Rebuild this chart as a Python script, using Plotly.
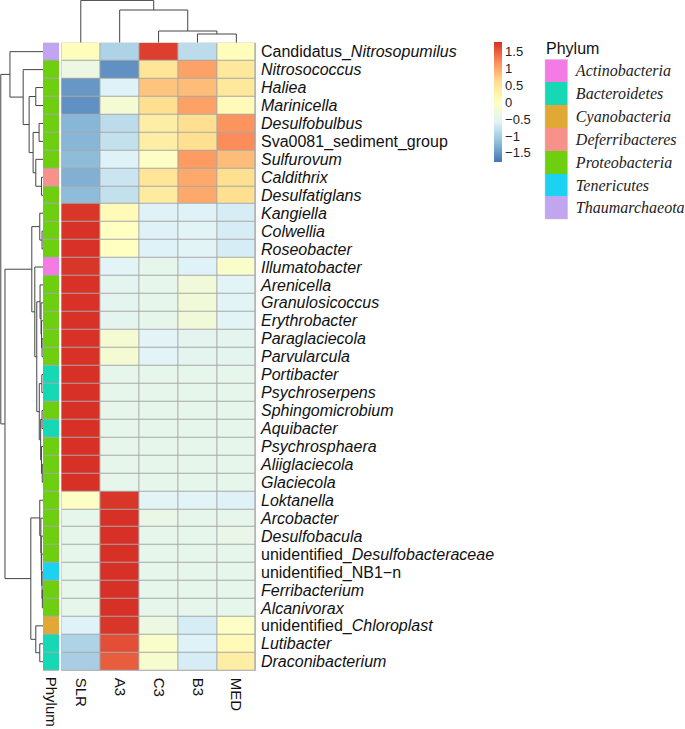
import plotly.graph_objects as go

W, H = 685, 729

samples = ["SLR", "A3", "C3", "B3", "MED"]

genera = [
    "Candidatus_<i>Nitrosopumilus</i>", "<i>Nitrosococcus</i>", "<i>Haliea</i>", "<i>Marinicella</i>",
    "<i>Desulfobulbus</i>", "Sva0081_sediment_group", "<i>Sulfurovum</i>", "<i>Caldithrix</i>",
    "<i>Desulfatiglans</i>", "<i>Kangiella</i>", "<i>Colwellia</i>", "<i>Roseobacter</i>",
    "<i>Illumatobacter</i>", "<i>Arenicella</i>", "<i>Granulosicoccus</i>", "<i>Erythrobacter</i>",
    "<i>Paraglaciecola</i>", "<i>Parvularcula</i>", "<i>Portibacter</i>", "<i>Psychroserpens</i>",
    "<i>Sphingomicrobium</i>", "<i>Aquibacter</i>", "<i>Psychrosphaera</i>", "<i>Aliiglaciecola</i>",
    "<i>Glaciecola</i>", "<i>Loktanella</i>", "<i>Arcobacter</i>", "<i>Desulfobacula</i>",
    "unidentified_<i>Desulfobacteraceae</i>", "unidentified_NB1\u2212n", "<i>Ferribacterium</i>",
    "<i>Alcanivorax</i>", "unidentified_<i>Chloroplast</i>", "<i>Lutibacter</i>", "<i>Draconibacterium</i>",
]

# row-scaled values per sample column
slr = [0.05, -0.35, -1.50, -1.55, -1.25, -1.25, -1.20, -1.30, -1.20, 1.75, 1.78, 1.78,
       1.75, 1.78, 1.78, 1.78, 1.78, 1.78, 1.789, 1.789, 1.789, 1.789, 1.789, 1.789,
       1.789, -0.05, -0.45, -0.45, -0.45, -0.45, -0.45, -0.45, -0.60, -0.95, -1.00]
a3 = [-0.95, -1.55, -0.60, -0.20, -0.85, -0.80, -0.60, -0.75, -0.80, 0.10, 0.00, 0.00,
      -0.55, -0.50, -0.50, -0.50, -0.20, -0.20, -0.447, -0.447, -0.447, -0.447, -0.447, -0.447,
      -0.447, 1.75, 1.789, 1.789, 1.789, 1.789, 1.789, 1.789, 1.75, 1.60, 1.50]
c3 = [1.70, 0.50, 0.80, 0.60, 0.35, 0.35, -0.05, 0.50, 0.40, -0.60, -0.60, -0.60,
      -0.45, -0.45, -0.45, -0.45, -0.55, -0.55, -0.447, -0.447, -0.447, -0.447, -0.447, -0.447,
      -0.447, -0.55, -0.40, -0.45, -0.45, -0.45, -0.45, -0.45, -0.35, -0.10, -0.15]
b3 = [-0.85, 1.05, 0.85, 1.05, 0.60, 0.60, 1.10, 1.00, 1.00, -0.60, -0.55, -0.55,
      -0.60, -0.25, -0.25, -0.25, -0.50, -0.50, -0.447, -0.447, -0.447, -0.447, -0.447, -0.447,
      -0.447, -0.55, -0.45, -0.45, -0.45, -0.45, -0.45, -0.45, -0.65, -0.60, -0.65]
med = [0.05, 0.45, 0.45, 0.10, 1.15, 1.20, 0.85, 0.60, 0.60, -0.65, -0.65, -0.65,
       -0.10, -0.55, -0.55, -0.55, -0.50, -0.50, -0.447, -0.447, -0.447, -0.447, -0.447, -0.447,
       -0.447, -0.60, -0.45, -0.42, -0.45, -0.45, -0.45, -0.45, -0.05, 0.10, 0.35]

phyla = ["Actinobacteria", "Bacteroidetes", "Cyanobacteria", "Deferribacteres",
         "Proteobacteria", "Tenericutes", "Thaumarchaeota"]
phylum_colors = ["#F47AE4", "#17D8B4", "#E2A836", "#F6928A", "#6ECF10", "#1BD2F2", "#C2A5F0"]
row_phylum = (["Thaumarchaeota"] + ["Proteobacteria"] * 6 + ["Deferribacteres"] +
              ["Proteobacteria"] * 4 + ["Actinobacteria"] + ["Proteobacteria"] * 5 +
              ["Bacteroidetes"] * 2 + ["Proteobacteria"] + ["Bacteroidetes"] +
              ["Proteobacteria"] * 7 + ["Tenericutes"] + ["Proteobacteria"] * 2 +
              ["Cyanobacteria"] + ["Bacteroidetes"] * 2)

# hierarchical merges (child a, child b, height); ids >= n_leaves refer to earlier merges
row_merges = [
    (2, 3, 7.3), (4, 5, 4.0), (7, 8, 1.6), (6, 37, 7.3), (36, 38, 10.0), (35, 39, 14.0),
    (1, 40, 20.0), (0, 41, 33.3), (10, 11, 1.0), (9, 43, 3.3), (16, 17, 1.0), (15, 45, 1.5),
    (14, 46, 2.0), (13, 47, 3.0), (18, 19, 1.2), (20, 21, 1.0), (23, 24, 0.8), (22, 51, 1.6),
    (50, 52, 2.4), (49, 53, 3.8), (48, 54, 6.3), (12, 55, 8.3), (44, 56, 11.3), (30, 31, 0.7),
    (29, 58, 1.0), (28, 59, 1.4), (27, 60, 1.8), (26, 61, 2.2), (25, 62, 3.3), (33, 34, 3.3),
    (32, 64, 7.3), (63, 65, 12.3), (57, 66, 38.3), (42, 67, 42.5),
]
col_merges = [(3, 4, 8.7), (2, 5, 11.7), (1, 6, 32.7), (0, 7, 42.3)]

cbar_ticks = [-1.5, -1.0, -0.5, 0.0, 0.5, 1.0, 1.5]
cbar_labels = ["\u22121.5", "\u22121", "\u22120.5", "0", "0.5", "1", "1.5"]


def dendro_segments(n_leaves, merges):
    pos = {i: float(i) for i in range(n_leaves)}
    hgt = {i: 0.0 for i in range(n_leaves)}
    hs, ps = [], []
    for k, (a, b, h) in enumerate(merges):
        nid = n_leaves + k
        hs += [hgt[a], h, h, hgt[b], None]
        ps += [pos[a], pos[a], pos[b], pos[b], None]
        pos[nid] = (pos[a] + pos[b]) / 2.0
        hgt[nid] = h
    return hs, ps


def fx(p):
    return p / W


def fy(p):
    return 1 - p / H


SANS = "Liberation Sans, Arial, sans-serif"
SERIF = "Liberation Serif, Times New Roman, serif"
BORDER = "#A8A8A8"
LINE = "#444444"

nrow, ncol = len(genera), len(samples)
z = [[slr[i], a3[i], c3[i], b3[i], med[i]] for i in range(nrow)]

rdylbu = ["#4575B4", "#91BFDB", "#E0F3F8", "#FFFFBF", "#FEE090", "#FC8D59", "#D73027"]
cs = [[k / 6, c] for k, c in enumerate(rdylbu)]

HM_X0, HM_X1 = 61.7, 257.3
HM_Y0, HM_Y1 = 42.7, 670.7
PH_X0, PH_X1 = 43.3, 59.3

fig = go.Figure()

fig.add_trace(go.Heatmap(
    z=z, x=list(range(ncol)), y=list(range(nrow)), colorscale=cs, zmin=-1.77, zmax=1.79,
    xgap=1, ygap=1, xaxis="x", yaxis="y", hoverinfo="skip",
    colorbar=dict(x=fx(497), xanchor="left", y=fy(42), yanchor="top", len=120, lenmode="pixels",
                  thickness=8, thicknessmode="pixels", outlinewidth=0, xpad=0, ypad=0,
                  tickvals=cbar_ticks, ticktext=cbar_labels, ticks="",
                  tickfont=dict(family=SANS, size=13, color="#222")),
))

# phylum annotation strip
pidx = [phyla.index(p) for p in row_phylum]
dcs = []
for k, c in enumerate(phylum_colors):
    dcs += [[k / len(phyla), c], [(k + 1) / len(phyla), c]]
fig.add_trace(go.Heatmap(
    z=[[v] for v in pidx], x=[0], y=list(range(nrow)), colorscale=dcs, zmin=-0.5,
    zmax=len(phyla) - 0.5, showscale=False, ygap=1, xaxis="x2", yaxis="y2", hoverinfo="skip",
))

# legend for phylum
fig.add_trace(go.Heatmap(
    z=[[k] for k in range(len(phyla))], x=[0], y=list(range(len(phyla))), colorscale=dcs,
    zmin=-0.5, zmax=len(phyla) - 0.5, showscale=False, xaxis="x5", yaxis="y5", hoverinfo="skip",
))

# dendrograms
ch, cp = dendro_segments(ncol, col_merges)
fig.add_trace(go.Scatter(x=cp, y=ch, mode="lines", line=dict(color=LINE, width=1),
                         xaxis="x3", yaxis="y3", hoverinfo="skip", showlegend=False))
rh, rp = dendro_segments(nrow, row_merges)
fig.add_trace(go.Scatter(x=rh, y=rp, mode="lines", line=dict(color=LINE, width=1),
                         xaxis="x4", yaxis="y4", hoverinfo="skip", showlegend=False))

hide = dict(showgrid=False, zeroline=False, showticklabels=False, ticks="", showline=False)

fig.update_layout(
    width=W, height=H, margin=dict(l=0, r=0, t=0, b=0),
    paper_bgcolor="white", plot_bgcolor="white", showlegend=False,
    xaxis=dict(domain=[fx(HM_X0), fx(HM_X1)], range=[-0.5, ncol - 0.5], anchor="y",
               tickvals=list(range(ncol)), ticktext=samples, tickangle=90, ticks="outside",
               ticklen=3, tickcolor="rgba(0,0,0,0)", showgrid=False, zeroline=False,
               tickfont=dict(family=SANS, size=15, color="#111")),
    yaxis=dict(domain=[fy(HM_Y1), fy(HM_Y0)], range=[nrow - 0.5, -0.5], anchor="x",
               side="right", tickvals=list(range(nrow)), ticktext=genera, ticks="outside",
               ticklen=1, tickcolor="rgba(0,0,0,0)", showgrid=False, zeroline=False,
               tickfont=dict(family=SANS, size=16, color="#111")),
    xaxis2=dict(domain=[fx(PH_X0), fx(PH_X1)], range=[-0.5, 0.5], anchor="y2",
                tickvals=[0], ticktext=["Phylum"], tickangle=90, ticks="outside", ticklen=2,
                tickcolor="rgba(0,0,0,0)", showgrid=False, zeroline=False,
                tickfont=dict(family=SANS, size=15, color="#111")),
    yaxis2=dict(domain=[fy(HM_Y1), fy(HM_Y0)], range=[nrow - 0.5, -0.5], anchor="x2", **hide),
    xaxis3=dict(domain=[fx(HM_X0), fx(HM_X1)], range=[-0.5, ncol - 0.5], anchor="y3", **hide),
    yaxis3=dict(domain=[fy(HM_Y0), 1.0], range=[0, HM_Y0], anchor="x3", **hide),
    xaxis4=dict(domain=[0.0, fx(PH_X0)], range=[PH_X0, 0], anchor="y4", **hide),
    yaxis4=dict(domain=[fy(HM_Y1), fy(HM_Y0)], range=[nrow - 0.5, -0.5], anchor="x4", **hide),
    xaxis5=dict(domain=[fx(548), fx(571)], range=[-0.5, 0.5], anchor="y5", **hide),
    yaxis5=dict(domain=[fy(219.3), fy(59.3)], range=[len(phyla) - 0.5, -0.5], anchor="x5",
                side="right", tickvals=list(range(len(phyla))),
                ticktext=["<i>%s</i>" % p for p in phyla], ticks="outside", ticklen=4,
                tickcolor="rgba(0,0,0,0)", showgrid=False, zeroline=False,
                tickfont=dict(family=SERIF, size=16, color="#222")),
    shapes=[
        dict(type="rect", xref="x", yref="y", x0=-0.5, x1=ncol - 0.5, y0=-0.5, y1=nrow - 0.5,
             fillcolor=BORDER, line=dict(color=BORDER, width=1), layer="below"),
        dict(type="rect", xref="x2", yref="y2", x0=-0.5, x1=0.5, y0=-0.5, y1=nrow - 0.5,
             fillcolor=BORDER, line=dict(color=BORDER, width=1), layer="below"),
        dict(type="rect", xref="x5", yref="y5", x0=-0.5, x1=0.5, y0=-0.5, y1=len(phyla) - 0.5,
             fillcolor="rgba(0,0,0,0)", line=dict(color="#C8C8C8", width=1), layer="above"),
    ],
    annotations=[
        dict(text="Phylum", xref="paper", yref="paper", x=fx(547), y=fy(48), xanchor="left",
             yanchor="middle", showarrow=False, font=dict(family=SANS, size=16, color="#111")),
    ],
)

fig.write_html("out.html", config={"displayModeBar": False, "staticPlot": True},
               post_script="document.body.style.margin='0';")
